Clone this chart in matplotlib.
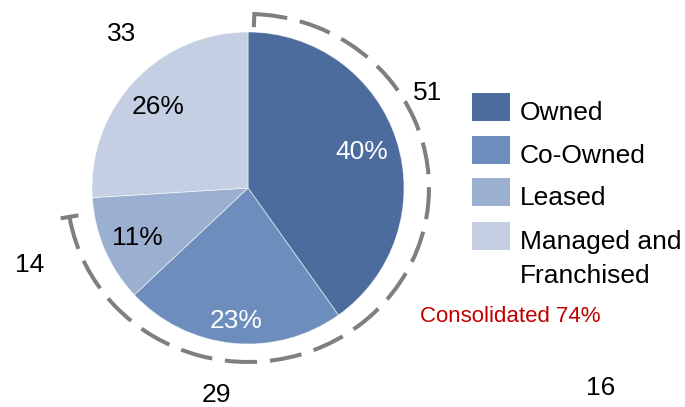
import numpy as np
import matplotlib
matplotlib.use("Agg")
import matplotlib.pyplot as plt
from matplotlib.patches import Arc, Rectangle

plt.rcParams["font.family"] = ["Liberation Sans", "DejaVu Sans"]

# property counts by ownership type
categories = ["Owned", "Co-Owned", "Leased", "Managed and\nFranchised"]
counts = [51, 29, 14, 33]
colors = ["#4B6C9C", "#6D8EBD", "#9BAFD0", "#C4CFE3"]
pct_colors = ["white", "white", "black", "black"]
consolidated = ["Owned", "Co-Owned", "Leased"]
extra_label = "16"

W, H = 685, 407


def Y(y):
    # image rows run top-down, axes run bottom-up
    return H - y


fig = plt.figure(figsize=(W / 100, H / 100), dpi=100)
ax = fig.add_axes([0, 0, 1, 1])

cx, cy, r = 248, Y(188), 156
ax.pie(counts, colors=colors, startangle=90, counterclock=False,
       center=(cx, cy), radius=r,
       wedgeprops=dict(linewidth=0.6, edgecolor=(1, 1, 1, 0.6)))
ax.set_xlim(0, W)
ax.set_ylim(0, H)
ax.set_aspect("equal")
ax.axis("off")

total = sum(counts)
shares = [c / total for c in counts]

# percentage inside each slice, count outside
pct_pos = [(362, 152), (236, 321), (137, 238), (158, 107)]
cnt_pos = [(428, 93), (216, 395), (30, 265), (122, 34)]
for s, c, pc, pp, cp in zip(shares, counts, pct_colors, pct_pos, cnt_pos):
    ax.text(pp[0], Y(pp[1]), f"{round(s * 100)}%", color=pc, fontsize=19,
            ha="center", va="center")
    ax.text(cp[0], Y(cp[1]), str(c), color="black", fontsize=19,
            ha="center", va="center")
ax.text(601, Y(388), extra_label, fontsize=19, ha="center", va="center")

# dashed bracket around the consolidated slices (clockwise from the top)
cons_share = sum(s for s, n in zip(shares, categories) if n in consolidated)
a_start = 90 - 2
a_end = 90 - cons_share * 360 + 6
rx, ry = 181, 174
gray = "#7F7F7F"
ax.add_patch(Arc((cx, cy), 2 * rx, 2 * ry, theta1=a_end, theta2=a_start,
                 color=gray, lw=2.9, linestyle=(0, (8, 3.2)), capstyle="butt"))
for a, (d_in, d_out) in [(a_start, (13, 2)), (a_end, (9, 9))]:
    t = np.deg2rad(a)
    xs = [cx + (rx - d_in) * np.cos(t), cx + (rx + d_out) * np.cos(t)]
    ys = [cy + (ry - d_in) * np.sin(t), cy + (ry + d_out) * np.sin(t)]
    ax.plot(xs, ys, color=gray, lw=2.9, solid_capstyle="butt")

pct_cons = round(sum(c for c, n in zip(counts, categories) if n in consolidated) / total * 100)
ax.text(510, Y(316), f"Consolidated {pct_cons}%", color="#C00000", fontsize=16,
        ha="center", va="center")

# legend
box_top = [93, 136, 178, 222]
for name, col, top in zip(categories, colors, box_top):
    ax.add_patch(Rectangle((472, Y(top + 28)), 38, 28, facecolor=col, edgecolor="none"))
    for i, line in enumerate(name.split("\n")):
        ax.text(520, Y(top + 27 + 34 * i), line, fontsize=19, ha="left", va="baseline")

fig.savefig("out.png", dpi=100)
